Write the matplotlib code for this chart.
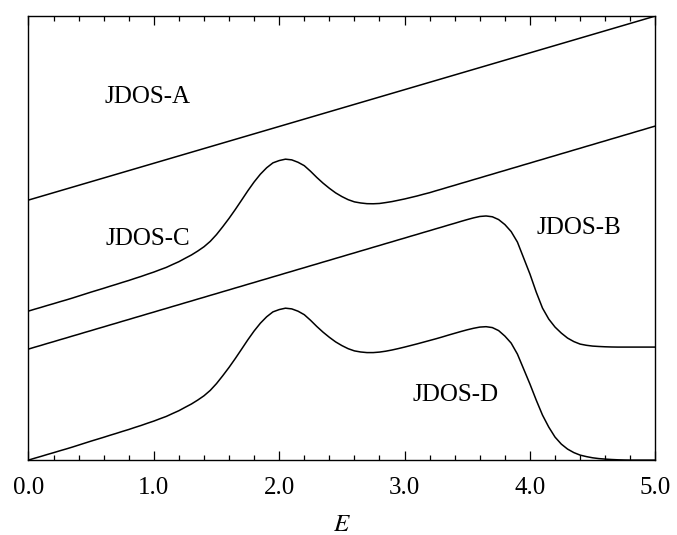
import numpy as np
import matplotlib.pyplot as plt
from matplotlib.ticker import MultipleLocator

plt.rcParams['font.family'] = ['Liberation Serif', 'DejaVu Serif']
plt.rcParams['mathtext.fontset'] = 'stix'

# energy grid shared by B, C, D (0.05 steps, 0 .. 5)
E = np.round(np.arange(0, 5.001, 0.05), 2)

# JDOS-A: plain straight background
E_a = [0.0, 1.0, 2.0, 3.0, 4.0, 5.0]
jdos_a = [260, 296.8, 333.6, 370.4, 407.2, 444]

# JDOS-B: offset background with a step near E = 4
jdos_b = [111, 112.9, 114.7, 116.6, 118.4, 120.3, 122.1, 124.0, 125.8, 127.7,
          129.5, 131.4, 133.2, 135.1, 136.9, 138.8, 140.6, 142.5, 144.3, 146.2,
          148.0, 149.9, 151.7, 153.6, 155.4, 157.3, 159.1, 161.0, 162.8, 164.7,
          166.5, 168.4, 170.2, 172.1, 173.9, 175.8, 177.6, 179.5, 181.3, 183.2,
          185.0, 186.9, 188.7, 190.6, 192.4, 194.3, 196.1, 198.0, 199.8, 201.7,
          203.5, 205.4, 207.2, 209.1, 210.9, 212.8, 214.6, 216.5, 218.3, 220.2,
          222.0, 223.9, 225.7, 227.6, 229.4, 231.3, 233.1, 235.0, 236.8, 238.7,
          240.5, 242.2, 243.6, 244.1, 243.3, 240.5, 235.5, 228.5, 218, 202,
          186, 168, 152, 141, 133, 127, 122, 118.5, 116, 114.8,
          114, 113.6, 113.3, 113.1, 113, 113, 113, 113, 113, 113,
          113]

# JDOS-C: offset background plus the peak near E = 2
jdos_c = [149, 150.9, 152.7, 154.6, 156.4, 158.3, 160.1, 162.0, 164.0, 166.0,
          168.0, 169.9, 171.8, 173.8, 175.7, 177.7, 179.6, 181.7, 183.7, 185.9,
          188.0, 190.4, 192.7, 195.6, 198.4, 201.8, 205.1, 209.0, 213.3, 218.7,
          225.5, 233.4, 241.7, 250.6, 259.9, 269.3, 278.1, 285.9, 292.3, 297.2,
          299.5, 300.9, 300.2, 297.8, 294.4, 288.8, 282.6, 276.9, 271.8, 267.2,
          263.5, 260.4, 258.2, 257.1, 256.4, 256.3, 256.6, 257.5, 258.5, 259.8,
          261.1, 262.6, 264.1, 265.8, 267.4, 269.3, 271.1, 273.0, 274.8, 276.7,
          278.5, 280.4, 282.2, 284.1, 285.9, 287.8, 289.6, 291.5, 293.3, 295.2,
          297.0, 298.9, 300.7, 302.6, 304.4, 306.3, 308.1, 310.0, 311.8, 313.7,
          315.5, 317.4, 319.2, 321.1, 322.9, 324.8, 326.6, 328.5, 330.3, 332.2,
          334.0]

# JDOS-D: peak plus step, no offset
jdos_d = [0, 1.9, 3.7, 5.6, 7.4, 9.3, 11.1, 13.0, 15.0, 17.0,
          19.0, 20.9, 22.8, 24.8, 26.7, 28.7, 30.6, 32.7, 34.7, 36.9,
          39.0, 41.4, 43.7, 46.6, 49.4, 52.8, 56.1, 60.0, 64.3, 69.7,
          76.5, 84.4, 92.7, 101.6, 110.9, 120.3, 129.1, 136.9, 143.3, 148.2,
          150.5, 151.9, 151.2, 148.9, 145.4, 139.8, 133.6, 127.9, 122.8, 118.2,
          114.5, 111.4, 109.2, 108.1, 107.5, 107.5, 108.0, 108.9, 110.1, 111.5,
          113.0, 114.6, 116.2, 117.9, 119.6, 121.3, 123.1, 125.0, 126.8, 128.6,
          130.3, 131.8, 133.0, 133.4, 132.5, 129.5, 124, 117, 106, 91,
          76, 60, 45, 33, 23, 16, 11, 7.5, 5, 3.5,
          2.3, 1.5, 1.0, 0.6, 0.3, 0.1, 0, 0, 0, 0,
          0]

labels = ['JDOS-A', 'JDOS-B', 'JDOS-C', 'JDOS-D']
label_pos = [(0.95, 363), (4.39, 232), (0.95, 221), (3.41, 65)]

fig = plt.figure(figsize=(6.77, 5.35), dpi=100)
ax = fig.add_axes([0.042, 0.140, 0.926, 0.830])

lw = 1.1
ax.plot(E_a, jdos_a, color='black', lw=lw)
ax.plot(E, jdos_b, color='black', lw=lw)
ax.plot(E, jdos_c, color='black', lw=lw)
ax.plot(E, jdos_d, color='black', lw=lw)

for txt, (xx, yy) in zip(labels, label_pos):
    ax.text(xx, yy, txt, fontsize=18, ha='center', va='center')

ax.set_xlim(0, 5)
ax.set_ylim(0, 444)
ax.xaxis.set_minor_locator(MultipleLocator(0.2))
ax.set_xticks([0, 1, 2, 3, 4, 5])
ax.set_xticklabels(['0.0', '1.0', '2.0', '3.0', '4.0', '5.0'])
ax.set_yticks([])
ax.tick_params(axis='x', which='both', direction='in', top=True, bottom=True,
               labelsize=18, pad=12, width=0.9)
ax.tick_params(axis='x', which='major', length=6.5)
ax.tick_params(axis='x', which='minor', length=3.5)
for sp in ax.spines.values():
    sp.set_linewidth(1.0)

ax.set_xlabel('$E$', fontsize=18, labelpad=11)

fig.savefig('out.png', dpi=100)
